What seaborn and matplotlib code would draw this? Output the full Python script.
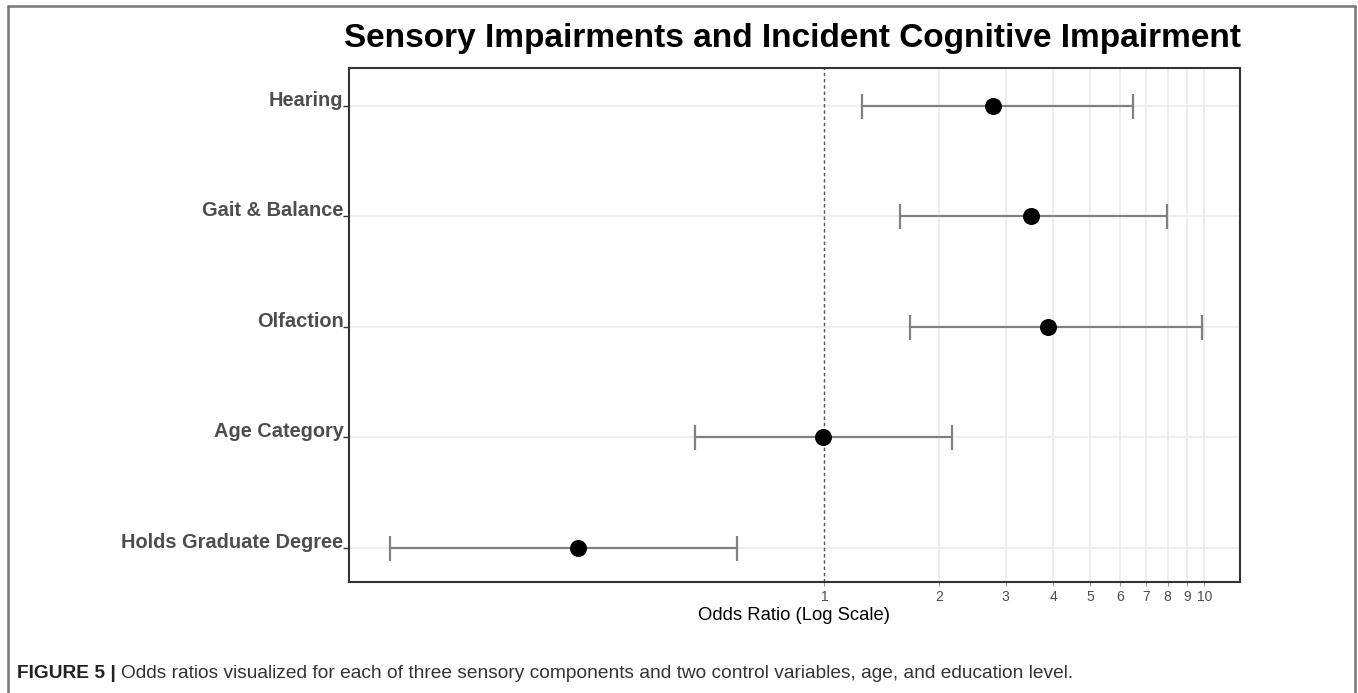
import matplotlib
matplotlib.use("Agg")
import matplotlib.pyplot as plt
import numpy as np
import pandas as pd
import seaborn as sns

# Odds ratios with 95% confidence intervals
predictors = ["Hearing", "Gait & Balance", "Olfaction", "Age Category", "Holds Graduate Degree"]
odds_ratio = [2.78, 3.50, 3.87, 0.99, 0.224]
ci_low = [1.255, 1.58, 1.68, 0.457, 0.0718]
ci_high = [6.48, 7.97, 9.85, 2.16, 0.587]
x_ticks = [1, 2, 3, 4, 5, 6, 7, 8, 9, 10]

title = "Sensory Impairments and Incident Cognitive Impairment"
x_label = "Odds Ratio (Log Scale)"
caption_bold = "FIGURE 5 |"
caption_text = ("Odds ratios visualized for each of three sensory components and two control "
                "variables, age, and education level.")

sns.set_theme(style="white")
plt.rcParams["font.family"] = ["Liberation Sans", "DejaVu Sans"]

df = pd.DataFrame({"predictor": predictors, "or": odds_ratio,
                   "lo": ci_low, "hi": ci_high})
df["pos"] = np.arange(len(df))

W, H = 1358, 693
fig = plt.figure(figsize=(W / 100, H / 100), dpi=100)
ax = fig.add_axes([349 / W, 1 - 582 / H, (1240 - 349) / W, (582 - 68) / H])

ax.set_xscale("log")
ax.set_xlim(0.0561, 12.4)
ax.set_ylim(len(df) - 1 + 0.31, -0.34)

# grid lines
for t in x_ticks[1:]:
    ax.axvline(t, color="#ebebeb", lw=1.2, zorder=0)
for p in df["pos"]:
    ax.axhline(p, color="#ebebeb", lw=1.2, zorder=0)

# reference line at no effect
ax.axvline(1, color="#555555", lw=1.0, ls=(0, (2.5, 2)), zorder=1)

# confidence intervals
ax.errorbar(df["or"], df["pos"],
            xerr=[df["or"] - df["lo"], df["hi"] - df["or"]],
            fmt="none", ecolor="#808080", elinewidth=1.6, capsize=9,
            capthick=1.6, zorder=2)

# point estimates
sns.scatterplot(data=df, x="or", y="pos", color="black", s=150,
                edgecolor="black", linewidth=0, zorder=3, ax=ax, legend=False)

ax.set_yticks(df["pos"])
ax.set_yticklabels(df["predictor"], fontsize=14.4, fontweight="bold", color="#4d4d4d",
                   va="baseline")
ax.set_xticks(x_ticks)
ax.set_xticklabels([str(t) for t in x_ticks], fontsize=10, color="#4d4d4d")
ax.xaxis.set_minor_locator(matplotlib.ticker.NullLocator())
ax.tick_params(axis="y", length=4, width=1, color="#333333", pad=0, left=True)
ax.tick_params(axis="x", length=3, width=0.8, color="#999999", pad=3, bottom=True)
ax.set_xlabel(x_label, fontsize=13.3, color="black", labelpad=2)
ax.set_ylabel("")

for s in ax.spines.values():
    s.set_visible(True)
    s.set_color("#333333")
    s.set_linewidth(1.5)

fig.text((345 + 1240) / 2 / W, 1 - 39 / H, title, ha="center", va="center",
         fontsize=24, fontweight="bold", color="black")

# outer frame: left, top, right edges
frame_kw = dict(color="#777777", lw=1.8, transform=fig.transFigure, clip_on=False)
fig.add_artist(plt.Line2D([8 / W, 8 / W], [0, 1 - 6 / H], **frame_kw))
fig.add_artist(plt.Line2D([8 / W, 1355 / W], [1 - 6 / H, 1 - 6 / H], **frame_kw))
fig.add_artist(plt.Line2D([1355 / W, 1355 / W], [0, 1 - 6 / H], **frame_kw))

# caption
cap_y = 1 - 674 / H
t1 = fig.text(17 / W, cap_y, caption_bold, ha="left", va="center",
              fontsize=13.8, fontweight="bold", color="#222222")
fig.canvas.draw()
bb = t1.get_window_extent(renderer=fig.canvas.get_renderer())
fig.text((bb.x1 + 5) / W, cap_y, caption_text, ha="left", va="center",
         fontsize=13.8, color="#333333")

fig.savefig("out.png", dpi=100, facecolor="white")
